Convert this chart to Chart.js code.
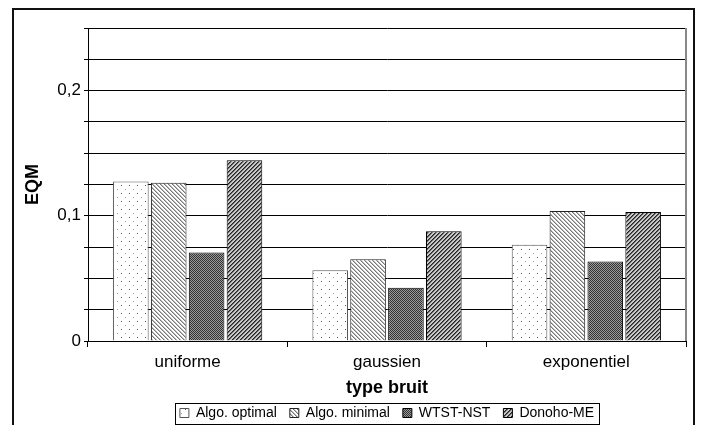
<!DOCTYPE html>
<html>
<head>
<meta charset="utf-8">
<script src="https://cdn.jsdelivr.net/npm/chart.js@4"></script>
<style>
  body { margin: 0; background: #fff; }
</style>
</head>
<body>
<canvas id="chartContainer" width="703" height="425"></canvas>
<script>
var categories = ['uniforme', 'gaussien', 'exponentiel'];
var algoOptimal = [0.1274, 0.0565, 0.0769];
var algoMinimal = [0.1264, 0.0653, 0.1038];
var wtstNst = [0.0707, 0.0425, 0.0634];
var donohoMe = [0.1444, 0.0877, 0.1030];
var yTicks = [0, 0.1, 0.2];

// small tiles used as bar fills
function makePattern(size, draw) {
    var c = document.createElement('canvas');
    c.width = size; c.height = size;
    var g = c.getContext('2d');
    draw(g);
    return c.getContext('2d').createPattern(c, 'repeat');
}

var dots = makePattern(8, function (g) {
    g.fillStyle = '#fff'; g.fillRect(0, 0, 8, 8);
    g.fillStyle = '#555'; g.fillRect(1, 1, 1, 1);
    g.fillStyle = '#999'; g.fillRect(5, 5, 1, 1);
});
var backLines = makePattern(4, function (g) {
    g.fillStyle = '#fff'; g.fillRect(0, 0, 4, 4);
    g.fillStyle = '#777';
    for (var i = 0; i < 4; i++) g.fillRect(i, i, 1, 1);
    g.fillStyle = '#bbb';
    for (var i = 0; i < 4; i++) g.fillRect((i + 1) % 4, i, 1, 1);
});
var checker = makePattern(4, function (g) {
    g.fillStyle = '#9a9a9a'; g.fillRect(0, 0, 4, 4);
    g.fillStyle = '#333';
    g.fillRect(0, 0, 1, 1); g.fillRect(2, 0, 1, 1);
    g.fillRect(1, 1, 1, 1); g.fillRect(3, 1, 1, 1);
    g.fillRect(0, 2, 1, 1); g.fillRect(2, 2, 1, 1);
    g.fillRect(1, 3, 1, 1); g.fillRect(3, 3, 1, 1);
});
var slashLines = makePattern(4, function (g) {
    g.fillStyle = '#c8c8c8'; g.fillRect(0, 0, 4, 4);
    g.fillStyle = '#222';
    for (var i = 0; i < 4; i++) g.fillRect(3 - i, i, 1, 1);
    g.fillStyle = '#666';
    for (var i = 0; i < 4; i++) g.fillRect((4 - i) % 4, i, 1, 1);
});

// legend sits centred under the plot, not the canvas
var legendShift = 35;

var frame = {
    id: 'frame',
    afterUpdate: function (chart) {
        var lg = chart.legend;
        lg.left += legendShift;
        lg.right += legendShift;
        lg.legendHitBoxes.forEach(function (b) { b.left += legendShift; });
    },
    beforeDraw: function (chart) {
        var ctx = chart.ctx;
        ctx.save();
        ctx.fillStyle = '#fff';
        ctx.fillRect(0, 0, chart.width, chart.height);
        ctx.strokeStyle = '#111';
        ctx.lineWidth = 2;
        ctx.strokeRect(13, 9, 681, 430);
        ctx.restore();
    },
    afterDraw: function (chart) {
        var ctx = chart.ctx;
        var a = chart.chartArea;
        ctx.save();
        ctx.strokeStyle = '#888';
        ctx.lineWidth = 2;
        ctx.beginPath();
        ctx.moveTo(a.right, a.top);
        ctx.lineTo(a.right, a.bottom);
        ctx.stroke();
        // box round the legend
        var boxes = chart.legend.legendHitBoxes;
        if (boxes && boxes.length) {
            var l = boxes[0].left - 5;
            var last = boxes[boxes.length - 1];
            var r = last.left + last.width + 5;
            var mid = boxes[0].top + boxes[0].height / 2;
            ctx.strokeStyle = '#000';
            ctx.lineWidth = 1;
            ctx.strokeRect(Math.round(l) + 0.5, Math.round(mid - 10) + 0.5, Math.round(r - l), 21);
        }
        ctx.restore();
    }
};

var options = {
    type: 'bar',
    data: {
        labels: categories,
        datasets: [{
            label: 'Algo. optimal',
            backgroundColor: dots,
            borderColor: '#555',
            borderWidth: 1,
            data: algoOptimal
        }, {
            label: 'Algo. minimal',
            backgroundColor: backLines,
            borderColor: '#222',
            borderWidth: 1,
            data: algoMinimal
        }, {
            label: 'WTST-NST',
            backgroundColor: checker,
            borderColor: '#000',
            borderWidth: 1,
            data: wtstNst
        }, {
            label: 'Donoho-ME',
            backgroundColor: slashLines,
            borderColor: '#000',
            borderWidth: 1,
            data: donohoMe
        }]
    },
    options: {
        responsive: false,
        animation: false,
        layout: { padding: { left: 18, top: 28, right: 17, bottom: -5 } },
        datasets: { bar: { categoryPercentage: 0.76, barPercentage: 0.94 } },
        plugins: {
            tooltip: { enabled: false },
            legend: {
                position: 'bottom',
                labels: {
                    color: '#000',
                    font: { family: "'Liberation Sans', Arial, sans-serif", size: 14 },
                    boxWidth: 9,
                    boxHeight: 9,
                    padding: 13
                }
            }
        },
        scales: {
            x: {
                afterFit: function (scale) { scale.height = 52; },
                grid: { offset: true, drawOnChartArea: false, color: '#000', tickLength: 6 },
                border: { color: '#000', width: 1 },
                ticks: { color: '#000', font: { family: "'Liberation Sans', Arial", size: 17 }, padding: 5 },
                title: {
                    display: true, text: 'type bruit', color: '#000',
                    font: { family: "'Liberation Sans', Arial", size: 18, weight: 'bold' },
                    padding: { top: 0, bottom: -6 }
                }
            },
            y: {
                min: 0,
                max: 0.25,
                afterFit: function (scale) { scale.width = 70; },
                grid: { color: '#000', tickLength: 4 },
                border: { color: '#000', width: 1 },
                ticks: {
                    stepSize: 0.025,
                    autoSkip: false,
                    color: '#000',
                    font: { family: "'Liberation Sans', Arial", size: 17 },
                    padding: 3,
                    callback: function (v) {
                        for (var i = 0; i < yTicks.length; i++) {
                            if (Math.abs(v - yTicks[i]) < 1e-9) return String(yTicks[i]).replace('.', ',');
                        }
                        return '';
                    }
                },
                title: {
                    display: true, text: 'EQM', color: '#000',
                    font: { family: "'Liberation Sans', Arial", size: 18, weight: 'bold' },
                    padding: { top: 4, bottom: 0 }
                }
            }
        }
    },
    plugins: [frame]
};

var ctx = document.getElementById('chartContainer').getContext('2d');
new Chart(ctx, options);
</script>
</body>
</html>
